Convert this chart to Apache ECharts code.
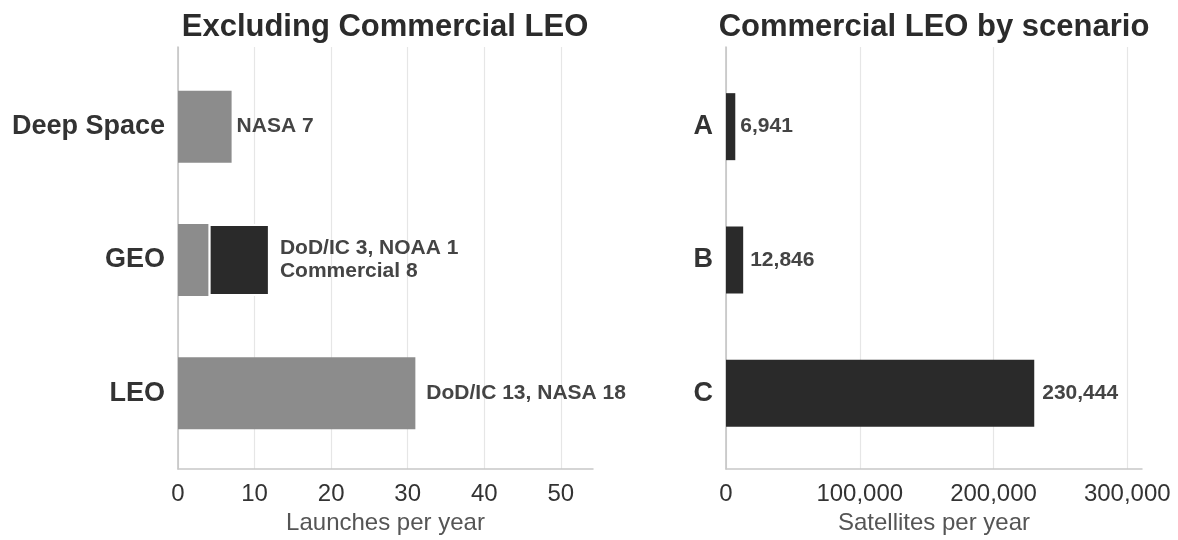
<!DOCTYPE html>
<html>
<head>
<meta charset="utf-8">
<script src="https://cdn.jsdelivr.net/npm/echarts@6.0.0/dist/echarts.min.js"></script>
<style>
  html, body { margin: 0; padding: 0; background: #fff; }
  #chart { width: 1178px; height: 540px; }
</style>
</head>
<body>
<div id="chart"></div>
<script>
// Launches per year by destination, excluding commercial LEO (listed bottom to top)
const destinations = ['LEO', 'GEO', 'Deep Space'];
const dodIcLaunches = [13, 3, 0];
const nasaLaunches = [18, 0, 7];
const noaaLaunches = [0, 1, 0];
const commercialLaunches = [0, 8, 0];

// Commercial LEO satellites per year by scenario (listed bottom to top)
const scenarios = ['C', 'B', 'A'];
const satellitesPerYear = [230444, 12846, 6941];

// Axis ranges
const launchAxisMax = 54.2;
const launchAxisStep = 10;
const satelliteAxisMax = 311000;
const satelliteAxisStep = 100000;

const FONT = '"Liberation Sans", Arial, Helvetica, sans-serif';
const GREY = '#8c8c8c';
const DARK = '#2a2a2a';

const governmentLaunches = destinations.map((_, i) =>
  dodIcLaunches[i] + nasaLaunches[i] + noaaLaunches[i]);

function governmentText(i) {
  const parts = [];
  if (dodIcLaunches[i]) parts.push('DoD/IC ' + dodIcLaunches[i]);
  if (nasaLaunches[i]) parts.push('NASA ' + nasaLaunches[i]);
  if (noaaLaunches[i]) parts.push('NOAA ' + noaaLaunches[i]);
  return parts.join(', ');
}

const fmt = v => Number(v).toLocaleString('en-US');

const valueLabel = {
  show: true,
  position: 'right',
  distance: 8,
  fontFamily: FONT,
  fontSize: 21,
  fontWeight: 'bold',
  color: '#444',
  lineHeight: 23,
  align: 'left'
};

// Gap between a bar end and its label, per destination (bottom to top)
const launchLabelGap = [11, 10, 5];
const scenarioLabelGap = [8, 7, 5];

// Frame axes: gridlines, bottom ticks and the left baseline
function frameXAxis(gridIndex, max, step, name, formatter) {
  return {
    gridIndex, type: 'value', min: 0, max, interval: step,
    axisLine: { show: true, lineStyle: { color: '#c8c8c8', width: 1.5 } },
    axisTick: { show: false },
    splitLine: { show: true, showMaxLine: false, lineStyle: { color: '#e6e6e6', width: 1.2 } },
    axisLabel: {
      show: true, showMaxLabel: false, margin: 13, formatter,
      fontFamily: FONT, fontSize: 24, color: '#333'
    },
    name, nameLocation: 'middle', nameGap: 42,
    nameTextStyle: { fontFamily: FONT, fontSize: 24, color: '#555' }
  };
}
function plotXAxis(gridIndex, max, step) {
  return { gridIndex, type: 'value', min: 0, max, interval: step, show: false };
}
function frameYAxis(gridIndex) {
  return {
    gridIndex, type: 'value', min: 0, max: 1,
    axisLine: { show: true, lineStyle: { color: '#c0c0c0', width: 1.5 } },
    axisTick: { show: false }, axisLabel: { show: false }, splitLine: { show: false }
  };
}
function plotYAxis(gridIndex, data) {
  return {
    gridIndex, type: 'category', data,
    axisLine: { show: false }, axisTick: { show: false }, splitLine: { show: false },
    axisLabel: {
      margin: 13, fontFamily: FONT, fontSize: 27, fontWeight: 'bold', color: '#333'
    }
  };
}

const option = {
  backgroundColor: '#fff',
  animation: false,
  graphic: [
    {
      type: 'text', x: 385, y: 12,
      style: {
        text: 'Excluding Commercial LEO', textAlign: 'center', textVerticalAlign: 'top',
        fontFamily: FONT, fontSize: 31, fontWeight: 'bold', fill: '#2b2b2b'
      }
    },
    {
      type: 'text', x: 934, y: 12,
      style: {
        text: 'Commercial LEO by scenario', textAlign: 'center', textVerticalAlign: 'top',
        fontFamily: FONT, fontSize: 31, fontWeight: 'bold', fill: '#2b2b2b'
      }
    }
  ],
  grid: [
    { left: 178, right: 585, top: 47, bottom: 68 },
    { left: 178, right: 585, top: 60, bottom: 80 },
    { left: 726, right: 36, top: 47, bottom: 68 },
    { left: 726, right: 36, top: 60, bottom: 80 }
  ],
  xAxis: [
    frameXAxis(0, launchAxisMax, launchAxisStep, 'Launches per year'),
    plotXAxis(1, launchAxisMax, launchAxisStep),
    frameXAxis(2, satelliteAxisMax, satelliteAxisStep, 'Satellites per year', fmt),
    plotXAxis(3, satelliteAxisMax, satelliteAxisStep)
  ],
  yAxis: [
    frameYAxis(0),
    plotYAxis(1, destinations),
    frameYAxis(2),
    plotYAxis(3, scenarios)
  ],
  series: [
    {
      name: 'Government', type: 'bar', xAxisIndex: 1, yAxisIndex: 1,
      stack: 'launches', barWidth: 72,
      itemStyle: { color: GREY },
      data: governmentLaunches.map((v, i) => ({
        value: v,
        label: Object.assign({}, valueLabel, {
          show: commercialLaunches[i] === 0,
          distance: launchLabelGap[i],
          formatter: governmentText(i)
        })
      }))
    },
    {
      name: 'Commercial', type: 'bar', xAxisIndex: 1, yAxisIndex: 1,
      stack: 'launches', barWidth: 72,
      itemStyle: { color: DARK, borderColor: '#fff', borderWidth: 2 },
      data: commercialLaunches.map((v, i) => v > 0 ? ({
        value: v,
        label: Object.assign({}, valueLabel, {
          distance: launchLabelGap[i],
          formatter: governmentText(i) + '\nCommercial ' + v
        })
      }) : null)
    },
    {
      name: 'Commercial LEO', type: 'bar', xAxisIndex: 3, yAxisIndex: 3,
      barWidth: 67,
      itemStyle: { color: DARK },
      data: satellitesPerYear.map((v, i) => ({
        value: v,
        label: Object.assign({}, valueLabel, {
          distance: scenarioLabelGap[i],
          formatter: fmt(v)
        })
      }))
    }
  ]
};

const chart = echarts.init(document.getElementById('chart'), null, { renderer: 'canvas' });
chart.setOption(option);
</script>
</body>
</html>
